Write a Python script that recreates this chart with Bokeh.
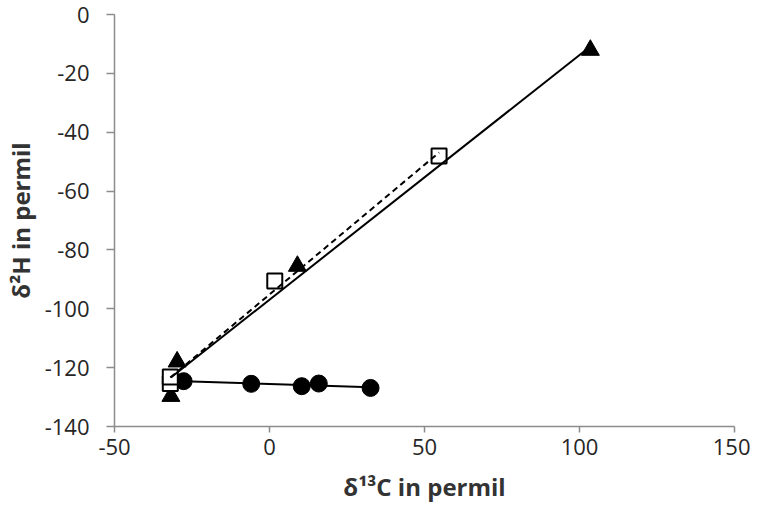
import numpy as np
from bokeh.plotting import figure
from bokeh.models import FixedTicker, Range1d
from bokeh.embed import file_html
from bokeh.resources import INLINE

# Data
tri_x = [-31.8, -29.8, 9.0, 103.5]
tri_y = [-129.7, -118.0, -85.5, -12.1]
sq_x = [-32.0, -32.0, 1.7, 54.7]
sq_y = [-125.4, -123.2, -90.6, -48.1]
circ_x = [-27.7, -5.9, 10.4, 15.9, 32.6]
circ_y = [-124.6, -125.5, -126.3, -125.4, -126.9]
x_ticks = [-50, 0, 50, 100, 150]
y_ticks = [-140, -120, -100, -80, -60, -40, -20, 0]

FONT = "Open Sans"
AXIS_COL = "#8c8c8c"

p = figure(width=750, height=508, output_backend="svg", toolbar_location=None,
           x_range=Range1d(-50, 150), y_range=Range1d(-140, 0),
           min_border_left=108, min_border_right=16, min_border_top=14, min_border_bottom=82)
p.outline_line_color = None
p.xgrid.visible = False
p.ygrid.visible = False
p.background_fill_color = "white"
p.border_fill_color = "white"

def trend(xs, ys):
    xs = np.asarray(xs, float); ys = np.asarray(ys, float)
    m, b = np.polyfit(xs, ys, 1)
    lx = np.array([xs.min(), xs.max()])
    return lx, m * lx + b

# markers
p.scatter(tri_x, tri_y, marker="triangle", size=18, fill_color="black", line_color="black")
p.scatter(circ_x, circ_y, marker="circle", size=17, fill_color="black", line_color="black")
p.scatter(sq_x, sq_y, marker="square", size=15, fill_color="white", line_color="black", line_width=2)

# trend lines
lx, ly = trend(tri_x, tri_y)
p.line(lx, ly, line_color="black", line_width=2)
lx, ly = trend(sq_x, sq_y)
p.line(lx, ly, line_color="black", line_width=2, line_dash="6 4")
lx, ly = trend(circ_x, circ_y)
p.line(lx, ly, line_color="black", line_width=2)

for ax, ticks in ((p.xaxis, x_ticks), (p.yaxis, y_ticks)):
    ax.ticker = FixedTicker(ticks=ticks)
    ax.major_label_overrides = {t: str(t) for t in ticks}
    ax.minor_tick_line_color = None
    ax.axis_line_color = AXIS_COL
    ax.axis_line_width = 1.5
    ax.major_tick_line_color = AXIS_COL
    ax.major_tick_line_width = 1.5
    ax.major_tick_in = 0
    ax.major_label_text_font = FONT
    ax.major_label_text_font_size = "22px"
    ax.major_label_text_color = "#262626"
    ax.axis_label_text_font = FONT
    ax.axis_label_text_font_size = "24px"
    ax.axis_label_text_font_style = "bold"
    ax.axis_label_text_color = "#333333"

p.xaxis.axis_label = "δ¹³C in permil"
p.yaxis.axis_label = "δ²H in permil"
p.xaxis.major_tick_out = 6
p.xaxis.major_label_standoff = 6
p.xaxis.axis_label_standoff = 12
p.yaxis.major_tick_out = 8
p.yaxis.major_label_standoff = 17
p.yaxis.axis_label_standoff = 5

open("out.html", "w").write(file_html(p, INLINE))
